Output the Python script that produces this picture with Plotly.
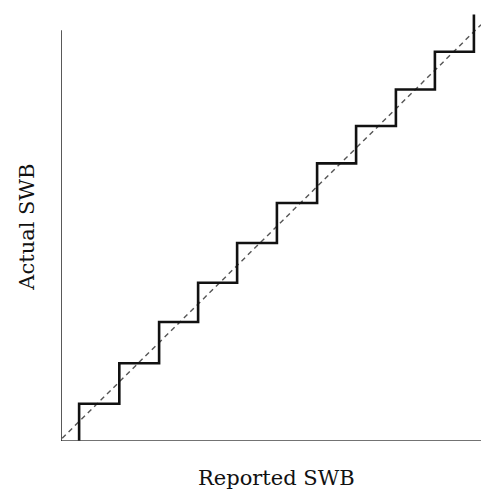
import plotly.graph_objects as go

# Step function: reported SWB (x) vs actual SWB (y)
reported = [0.46, 1.48, 2.49, 3.48, 4.47, 5.48, 6.50, 7.49, 8.50, 9.49, 10.48, 10.48]
actual = [0.0, 0.95, 1.98, 3.03, 4.03, 5.04, 6.06, 7.07, 8.02, 8.95, 9.91, 10.86]

# Reference diagonal (reported == actual)
diag_x = [0.03, 10.66]
diag_y = [0.07, 10.6]

x_title = "Reported SWB"
y_title = "Actual SWB"

fig = go.Figure()
fig.add_trace(go.Scatter(x=diag_x, y=diag_y, mode="lines",
                         line=dict(color="#555555", width=1.4, dash="5px,4px"),
                         hoverinfo="skip", showlegend=False))
fig.add_trace(go.Scatter(x=reported, y=actual, mode="lines", line_shape="vh",
                         line=dict(color="#111111", width=2.6),
                         showlegend=False))

# axis lines
fig.add_shape(type="line", xref="x", yref="y", x0=0, x1=10.66, y0=0, y1=0,
              line=dict(color="#444444", width=1.5))
fig.add_shape(type="line", xref="x", yref="y", x0=0, x1=0, y0=0, y1=10.46,
              line=dict(color="#222222", width=1.5))

fig.update_xaxes(range=[0, 10.66], showgrid=False, zeroline=False, showline=False,
                 showticklabels=False, ticks="")
fig.update_yaxes(range=[0, 11.0], showgrid=False, zeroline=False, showline=False,
                 showticklabels=False, ticks="")

fig.add_annotation(text=x_title, xref="paper", yref="paper", x=0.512, y=-0.086,
                   xanchor="center", yanchor="middle", showarrow=False,
                   font=dict(family="DejaVu Serif", size=21, color="#111111"))
fig.add_annotation(text=y_title, xref="paper", yref="paper", x=-0.083, y=0.494,
                   xanchor="center", yanchor="middle", showarrow=False, textangle=-90,
                   font=dict(family="DejaVu Serif", size=21, color="#111111"))

fig.update_layout(width=481, height=491, margin=dict(l=61, r=0, t=9, b=50),
                  plot_bgcolor="white", paper_bgcolor="white")

fig.write_html("out.html", config={"displayModeBar": False},
               post_script="document.body.style.margin='0';document.body.style.overflow='hidden';")
